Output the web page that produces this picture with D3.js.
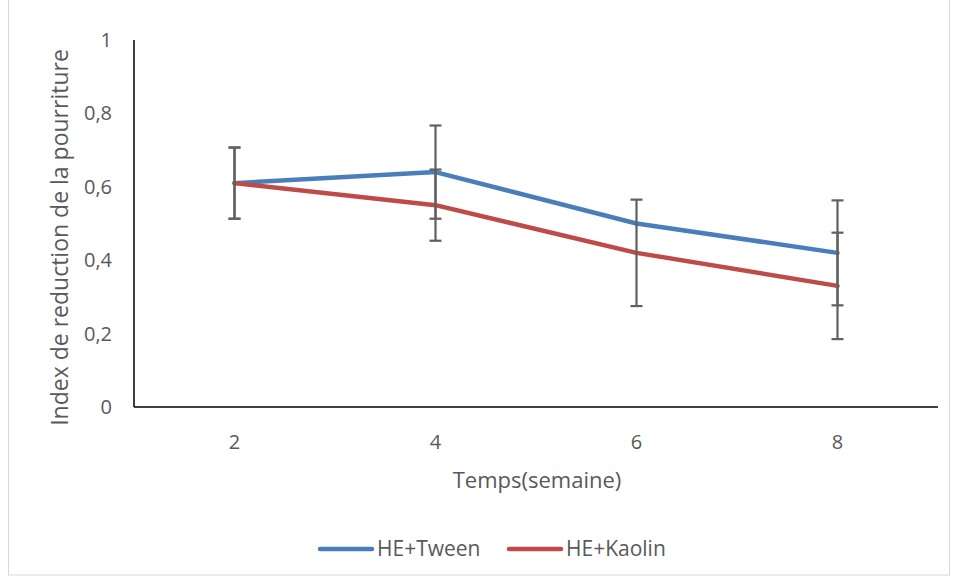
<!DOCTYPE html>
<html>
<head>
<meta charset="utf-8">
<script src="https://cdn.jsdelivr.net/npm/d3@7"></script>
<style>
  body { margin: 0; background: #fff; }
  text { font-family: "Open Sans", "Liberation Sans", sans-serif; fill: #595959; }
</style>
</head>
<body>
<script>
var weeks = ["2", "4", "6", "8"];
var tween = [0.61, 0.64, 0.50, 0.42];
var tweenErr = [0.097, 0.127, null, 0.143];
var kaolin = [0.61, 0.55, 0.42, 0.33];
var kaolinErr = [0.097, 0.097, 0.145, 0.145];
var yTicks = [0, 0.2, 0.4, 0.6, 0.8, 1];
var seriesNames = ["HE+Tween", "HE+Kaolin"];

var series = [
  { name: seriesNames[0], values: tween, err: tweenErr, color: "#4a7ebb" },
  { name: seriesNames[1], values: kaolin, err: kaolinErr, color: "#be4b48" }
];

var W = 955, H = 581;
var margin = {top: 40, right: 17, bottom: 174, left: 134},
    width = W - margin.left - margin.right,
    height = H - margin.top - margin.bottom;

var svg = d3.select("body").append("svg")
    .attr("width", W)
    .attr("height", H);

// chart border
svg.append("rect")
    .attr("x", 8.5).attr("y", -1)
    .attr("width", 941).attr("height", 576)
    .attr("fill", "none")
    .attr("stroke", "#d9d9d9");

var g = svg.append("g")
    .attr("transform", "translate(" + margin.left + "," + margin.top + ")");

var x = d3.scalePoint().domain(weeks).range([0, width]).padding(0.5);
var y = d3.scaleLinear().domain([0, 1]).range([height, 0]);

var fr = d3.formatLocale({decimal: ",", thousands: " ", grouping: [3], currency: ["", "€"]});
var fmt = function(d) { return d === 0 || d === 1 ? String(d) : fr.format(".1f")(d); };

// y axis labels
g.selectAll(".ytick").data(yTicks).enter().append("text")
    .attr("x", -22)
    .attr("y", function(d) { return y(d); })
    .attr("dy", "0.35em")
    .attr("text-anchor", "end")
    .style("font-size", "20px")
    .text(fmt);

// x axis labels
g.selectAll(".xtick").data(weeks).enter().append("text")
    .attr("x", function(d) { return x(d); })
    .attr("y", height + 35)
    .attr("dy", "0.35em")
    .attr("text-anchor", "middle")
    .style("font-size", "20px")
    .text(function(d) { return d; });

// axis lines
g.append("line")
    .attr("x1", 0).attr("x2", 0).attr("y1", 0).attr("y2", height)
    .attr("stroke", "#000").attr("stroke-width", 1.5);
g.append("line")
    .attr("x1", 0).attr("x2", width).attr("y1", height).attr("y2", height)
    .attr("stroke", "#000").attr("stroke-width", 1.5);

var line = d3.line()
    .x(function(d, i) { return x(weeks[i]); })
    .y(function(d) { return y(d); });

series.forEach(function(s) {
  g.append("path")
      .attr("d", line(s.values))
      .attr("fill", "none")
      .attr("stroke", s.color)
      .attr("stroke-width", 4.5)
      .attr("stroke-linejoin", "round")
      .attr("stroke-linecap", "round");
});

// error bars
series.forEach(function(s) {
  s.values.forEach(function(v, i) {
    var e = s.err[i];
    if (e == null) return;
    var cx = x(weeks[i]);
    var eg = g.append("g").attr("stroke", "#606060").attr("stroke-width", 2.2);
    eg.append("line").attr("x1", cx).attr("x2", cx)
        .attr("y1", y(v + e)).attr("y2", y(v - e));
    [v + e, v - e].forEach(function(c) {
      eg.append("line").attr("x1", cx - 6).attr("x2", cx + 6)
          .attr("y1", y(c)).attr("y2", y(c));
    });
  });
});

// axis titles
svg.append("text")
    .attr("transform", "translate(68," + (margin.top + height / 2 + 14) + ") rotate(-90)")
    .attr("text-anchor", "middle")
    .style("font-size", "23px")
    .text("Index de reduction de la pourriture");

svg.append("text")
    .attr("x", 537)
    .attr("y", 480)
    .attr("dy", "0.35em")
    .attr("text-anchor", "middle")
    .style("font-size", "22px")
    .text("Temps(semaine)");

// legend
var legX = [318, 507];
series.forEach(function(s, i) {
  var lg = svg.append("g").attr("transform", "translate(" + legX[i] + ",549)");
  lg.append("line").attr("x1", 2).attr("x2", 54)
      .attr("stroke", s.color).attr("stroke-width", 4.5)
      .attr("stroke-linecap", "round");
  lg.append("text").attr("x", 59).attr("dy", "0.35em")
      .style("font-size", "21px")
      .text(s.name);
});
</script>
</body>
</html>
